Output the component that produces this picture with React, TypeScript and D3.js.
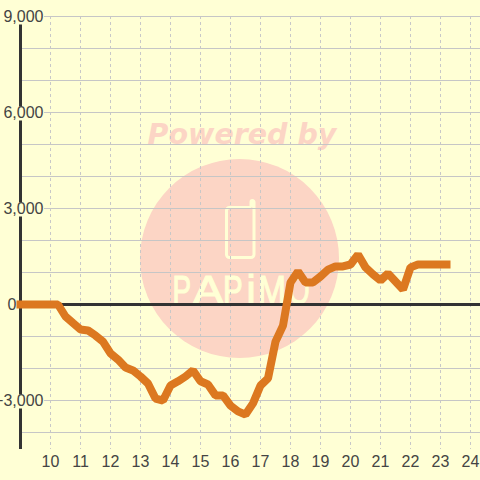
import React from "react";
import * as d3 from "d3";

const hours = [9, 9.25, 9.5, 9.75, 10, 10.25, 10.5, 10.75, 11, 11.25, 11.5, 11.75, 12, 12.25, 12.5, 12.75, 13, 13.25, 13.5, 13.75, 14, 14.25, 14.5, 14.75, 15, 15.25, 15.5, 15.75, 16, 16.25, 16.5, 16.75, 17, 17.25, 17.5, 17.75, 18, 18.25, 18.5, 18.75, 19, 19.25, 19.5, 19.75, 20, 20.25, 20.5, 20.75, 21, 21.25, 21.5, 21.75, 22, 22.25, 22.5, 22.75, 23, 23.2];
const profit = [0, 0, 0, 0, 0, 0, -375, -580, -780, -810, -970, -1160, -1530, -1720, -1970, -2060, -2250, -2470, -2940, -3000, -2530, -2400, -2250, -2060, -2400, -2500, -2840, -2840, -3160, -3340, -3440, -3090, -2530, -2310, -1160, -660, 690, 1030, 690, 690, 875, 1090, 1190, 1190, 1250, 1560, 1160, 940, 750, 970, 720, 470, 1160, 1250, 1250, 1250, 1250, 1250];
const xTicks = [10, 11, 12, 13, 14, 15, 16, 17, 18, 19, 20, 21, 22, 23, 24];
const yGrid = [9000, 8000, 7000, 6000, 5000, 4000, 3000, 2000, 1000, -1000, -2000, -3000, -4000];
const yLabels = [9000, 6000, 3000, -3000];
const logoLetters = ["P", "A", "P", "i", "M", "O"];
const logoX = [172.5, 193, 223, 246.5, 258, 288.5];
const logoStretch = [0.68, 1.12, 0.72, 1, 0.82, 0.66];

const x = d3.scaleLinear().domain([9, 24]).range([20.5, 470.5]);
const y = d3.scaleLinear().domain([9000, -4500]).range([16.5, 448.5]);
const line = d3.line<number>().x((_, i) => x(hours[i])).y((d) => y(d));
const fmt = d3.format(",");

const BG = "#ffffd5";
const WM = "#fcd5c5";
const FONT = "'Liberation Sans', Arial, sans-serif";

export default function App() {
  return (
    <svg width={480} height={480} style={{ position: "fixed", left: 0, top: 0, display: "block" }}>
      <rect width={480} height={480} fill={BG} />
      <circle cx={239.5} cy={258.5} r={99.5} fill={WM} />
      <text x={242} y={144} textAnchor="middle" fontFamily="'DejaVu Sans'" fontWeight="bold" fontStyle="italic" fontSize={28.5} fill={WM}>Powered by</text>
      <path d="M251 207.5 H229.5 a3 3 0 0 0 -3 3 V254.5 a3 3 0 0 0 3 3 H251 a3 3 0 0 0 3 -3 V202 a1.5 1.5 0 0 0 -3 0 V207.5" fill="none" stroke={BG} strokeWidth={3} />
      {logoLetters.map((c, i) => (
        <text key={i} transform={`translate(${logoX[i]} 304) scale(${logoStretch[i]} 1)`} fontFamily="'Liberation Sans Narrow','Liberation Sans'" fontSize={41} stroke={BG} strokeWidth={1.2} fill={BG}>{c}</text>
      ))}
      {xTicks.map((t) => (
        <line key={t} x1={x(t)} x2={x(t)} y1={16} y2={449} stroke="#c8c8c8" strokeWidth={1} strokeDasharray="3 3" />
      ))}
      {yGrid.map((v) => (
        <line key={v} x1={20} x2={480} y1={y(v)} y2={y(v)} stroke="#c6c6c6" strokeWidth={1} />
      ))}
      <line x1={20.5} x2={20.5} y1={16} y2={449} stroke="#333" strokeWidth={3} />
      <line x1={20} x2={480} y1={y(0)} y2={y(0)} stroke="#333" strokeWidth={3} />
      {yLabels.map((v) => (
        <g key={v}>
          <rect x={v < 0 ? 2 : 6} y={y(v) - 6} width={v < 0 ? 42 : 38} height={14} fill={BG} />
          <text x={43.5} y={y(v) + 5.5} textAnchor="end" fontFamily={FONT} fontSize={16} fill="#444">{fmt(v)}</text>
        </g>
      ))}
      <text x={16.5} y={y(0) + 5.5} textAnchor="end" fontFamily={FONT} fontSize={16} fill="#444">0</text>
      <path d={line(profit) ?? ""} fill="none" stroke="#dc7820" strokeWidth={8} strokeLinecap="square" strokeLinejoin="bevel" />
      {xTicks.map((t) => (
        <text key={t} x={x(t)} y={467} textAnchor="middle" fontFamily={FONT} fontSize={16} fill="#444">{t}</text>
      ))}
    </svg>
  );
}
